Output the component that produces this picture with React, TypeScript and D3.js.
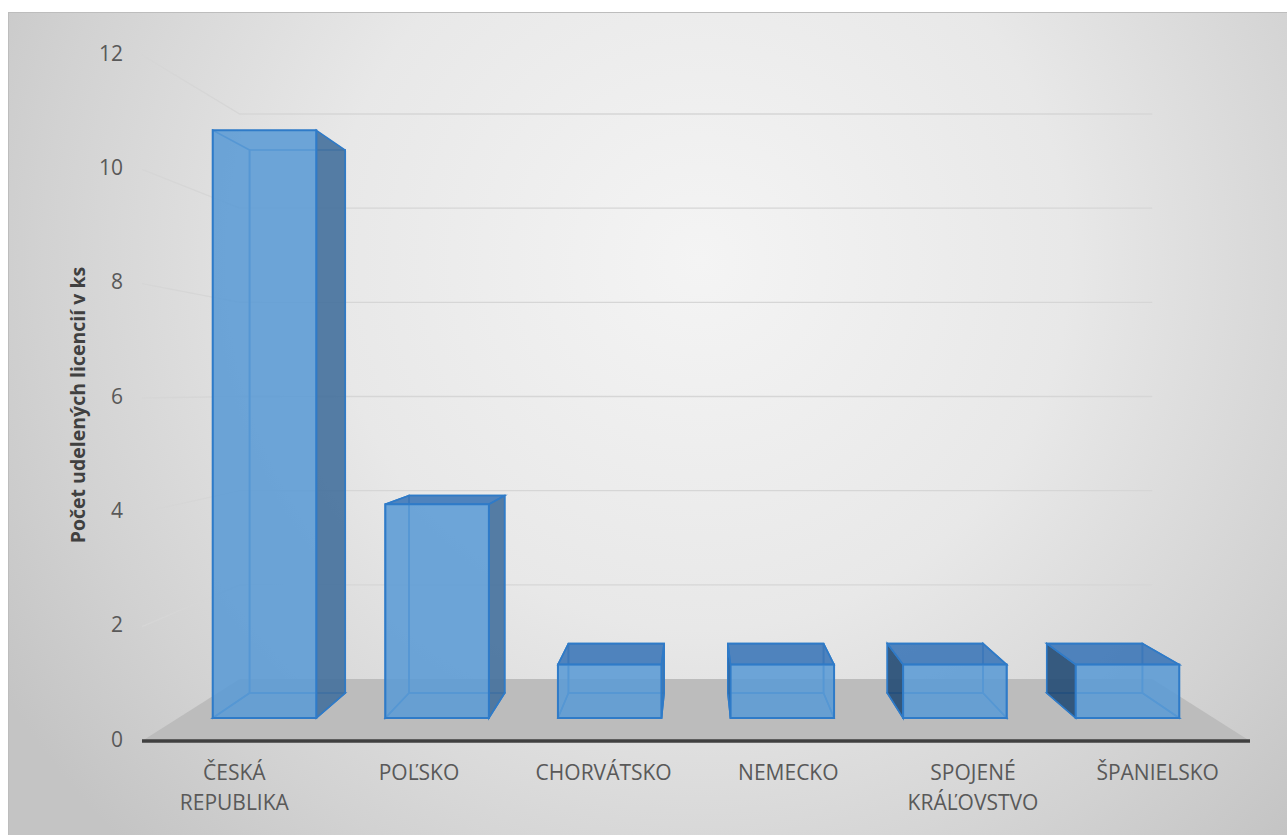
import React from "react";
import * as d3 from "d3";

const categories = ["ČESKÁ REPUBLIKA", "POĽSKO", "CHORVÁTSKO", "NEMECKO", "SPOJENÉ KRÁĽOVSTVO", "ŠPANIELSKO"];
const values = [11, 4, 1, 1, 1, 1];
const yTicks = [0, 2, 4, 6, 8, 10, 12];
const yTitle = "Počet udelených licencií v ks";

const W = 1287;
const H = 835;
const VX = 696;
const VY = 389.5;
const S_WALL = 0.8236;
const S_BAR_FRONT = 0.9346;
const S_BAR_BACK = 0.8634;
const BAR_FRAC = 0.6;
const FONT = "'Open Sans', 'Noto Sans', sans-serif";

const proj = (x: number, y: number, s: number): [number, number] => [VX + (x - VX) * s, VY + (y - VY) * s];
const poly = (pts: [number, number][]) => "M" + pts.map((p) => `${p[0].toFixed(2)},${p[1].toFixed(2)}`).join("L") + "Z";

export default function App() {
  const x = d3.scaleBand<string>().domain(categories).range([142, 1250]).paddingInner(0).paddingOuter(0);
  const y = d3.scaleLinear().domain([0, 12]).range([741, 55]);
  const x0 = x.range()[0];
  const x1 = x.range()[1];
  const y0 = y(0);

  const floor = poly([proj(x0, y0, 1), proj(x0, y0, S_WALL), proj(x1, y0, S_WALL), proj(x1, y0, 1)]);

  const stroke = "#2F7BC8";

  const bars = categories.map((c, i) => {
    const cx = (x(c) as number) + x.bandwidth() / 2;
    const hw = (x.bandwidth() * BAR_FRAC) / 2;
    const bl = cx - hw;
    const br = cx + hw;
    const yb = y(0);
    const yt = y(values[i]);
    const sf = S_BAR_FRONT;
    const sb = S_BAR_BACK;
    const front = poly([proj(bl, yt, sf), proj(br, yt, sf), proj(br, yb, sf), proj(bl, yb, sf)]);
    const back = poly([proj(bl, yt, sb), proj(br, yt, sb), proj(br, yb, sb), proj(bl, yb, sb)]);
    const left = poly([proj(bl, yt, sf), proj(bl, yt, sb), proj(bl, yb, sb), proj(bl, yb, sf)]);
    const right = poly([proj(br, yt, sf), proj(br, yt, sb), proj(br, yb, sb), proj(br, yb, sf)]);
    const top = poly([proj(bl, yt, sf), proj(br, yt, sf), proj(br, yt, sb), proj(bl, yt, sb)]);
    const bottom = poly([proj(bl, yb, sf), proj(br, yb, sf), proj(br, yb, sb), proj(bl, yb, sb)]);
    const showLeft = VX < bl;
    const showRight = VX > br;
    const showTop = VY < yt;
    return (
      <g key={c}>
        <path d={back} fill="none" stroke={stroke} strokeWidth={1.6} />
        <path d={bottom} fill="none" stroke={stroke} strokeWidth={1.6} />
        {showLeft ? <path d={left} fill="#234B74" fillOpacity={0.9} stroke={stroke} strokeWidth={1.6} /> : <path d={left} fill="none" stroke={stroke} strokeWidth={1.6} />}
        {showRight ? <path d={right} fill="#44709C" fillOpacity={0.9} stroke={stroke} strokeWidth={1.6} /> : <path d={right} fill="none" stroke={stroke} strokeWidth={1.6} />}
        {showTop ? <path d={top} fill="#3E78B8" fillOpacity={0.9} stroke={stroke} strokeWidth={1.6} /> : null}
        <path d={front} fill="#5B9BD5" fillOpacity={0.88} stroke={stroke} strokeWidth={2} />
      </g>
    );
  });

  return (
    <svg width={W} height={H} style={{ position: "absolute", left: 0, top: 0 }} xmlns="http://www.w3.org/2000/svg">
      <defs>
        <radialGradient id="bg" gradientUnits="userSpaceOnUse" cx={700} cy={260} r={820}>
          <stop offset="0" stopColor="#F4F4F4" />
          <stop offset="0.45" stopColor="#E8E8E8" />
          <stop offset="0.8" stopColor="#D2D2D2" />
          <stop offset="1" stopColor="#C4C4C4" />
        </radialGradient>
      </defs>
      <rect x={0} y={0} width={W} height={H} fill="#FFFFFF" />
      <rect x={8.5} y={12.5} width={W} height={H} fill="url(#bg)" stroke="#BDBDBD" strokeWidth={1} />

      {yTicks.filter((t) => t > 0).map((t) => {
        const a = proj(x0, y(t), 1);
        const b = proj(x0, y(t), S_WALL);
        const e = proj(x1, y(t), S_WALL);
        return <path key={t} d={`M${a[0]},${a[1]}L${b[0]},${b[1]}L${e[0]},${e[1]}`} fill="none" stroke="#D6D6D6" strokeWidth={1.3} />;
      })}

      <path d={floor} fill="#BCBCBC" />

      {bars}

      <line x1={x0} x2={x1} y1={y0} y2={y0} stroke="#404040" strokeWidth={3.5} />

      {yTicks.map((t) => (
        <text key={t} x={123} y={y(t)} textAnchor="end" dominantBaseline="middle" fontFamily={FONT} fontSize={21} fill="#595959">
          {t}
        </text>
      ))}

      {categories.map((c) => {
        const cx = (x(c) as number) + x.bandwidth() / 2;
        const words = c.split(" ");
        return (
          <text key={c} x={cx} y={780} textAnchor="middle" fontFamily={FONT} fontSize={21} fill="#595959">
            {words.map((w, j) => (
              <tspan key={j} x={cx} y={780 + j * 30}>
                {w}
              </tspan>
            ))}
          </text>
        );
      })}

      <text transform="translate(80,405) rotate(-90)" textAnchor="middle" dominantBaseline="middle" fontFamily={FONT} fontSize={19.5} fontWeight="bold" fill="#404040">
        {yTitle}
      </text>
    </svg>
  );
}
